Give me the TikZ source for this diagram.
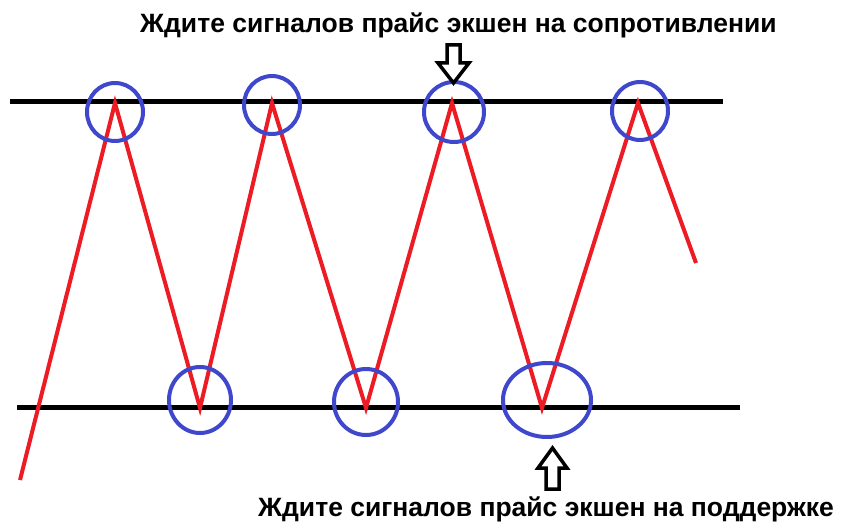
\documentclass[tikz,border=0pt]{standalone}
\usepackage{fontspec}
\setmainfont{Liberation Sans}
\definecolor{paintred}{HTML}{ED1C24}
\definecolor{paintblue}{HTML}{3F48CC}
\begin{document}
\begin{tikzpicture}[x=1pt,y=-1pt,
  level/.style={line width=5pt,black},
  price/.style={line width=4pt,paintred,line join=miter},
  ring/.style={draw=paintblue,line width=4pt},
  hollow/.style={draw=black,line width=3.5pt,fill=white,line join=miter},
  caption/.style={font=\bfseries\fontsize{26.5}{30}\selectfont,inner sep=0pt,anchor=base west}]
\useasboundingbox[fill=white] (0,0) rectangle (841,524);
% levels
\coordinate (r1) at (10,102);
\coordinate (r2) at (723,102);
\coordinate (s1) at (17,407);
\coordinate (s2) at (740,407);
\draw[level] (r1) -- (r2);
\draw[level] (s1) -- (s2);
% price
\coordinate (p0) at (20,480);
\coordinate (p1) at (115,103);
\coordinate (p2) at (200,408);
\coordinate (p3) at (272,103);
\coordinate (p4) at (366,408);
\coordinate (p5) at (452,103);
\coordinate (p6) at (542,408);
\coordinate (p7) at (638,103);
\coordinate (p8) at (696,263);
\draw[price] (p0) -- (p1) -- (p2) -- (p3) -- (p4) -- (p5) -- (p6) -- (p7) -- (p8);
% circles
\draw[ring] (115,112) ellipse [x radius=28,y radius=29];
\draw[ring] (272,105) ellipse [x radius=28,y radius=29];
\draw[ring] (454,112) ellipse [x radius=30,y radius=30];
\draw[ring] (640,111) ellipse [x radius=28,y radius=29];
\draw[ring] (200,400) ellipse [x radius=31,y radius=33];
\draw[ring] (366,402) ellipse [x radius=32,y radius=33];
\draw[ring] (547,400) ellipse [x radius=44,y radius=37];
% arrows
\draw[hollow] (447,45) -- (460,45) -- (460,63) -- (469,63) -- (453.5,83) -- (438,63) -- (447,63) -- cycle;
\draw[hollow] (546,489) -- (559,489) -- (559,468) -- (567,468) -- (552.5,448) -- (538,468) -- (546,468) -- cycle;
% texts
\node[caption] (top) at (140,33) {Ждите сигналов прайс экшен на сопротивлении};
\node[caption] (bot) at (258,516.5) {Ждите сигналов прайс экшен на поддержке};
\end{tikzpicture}
\end{document}
